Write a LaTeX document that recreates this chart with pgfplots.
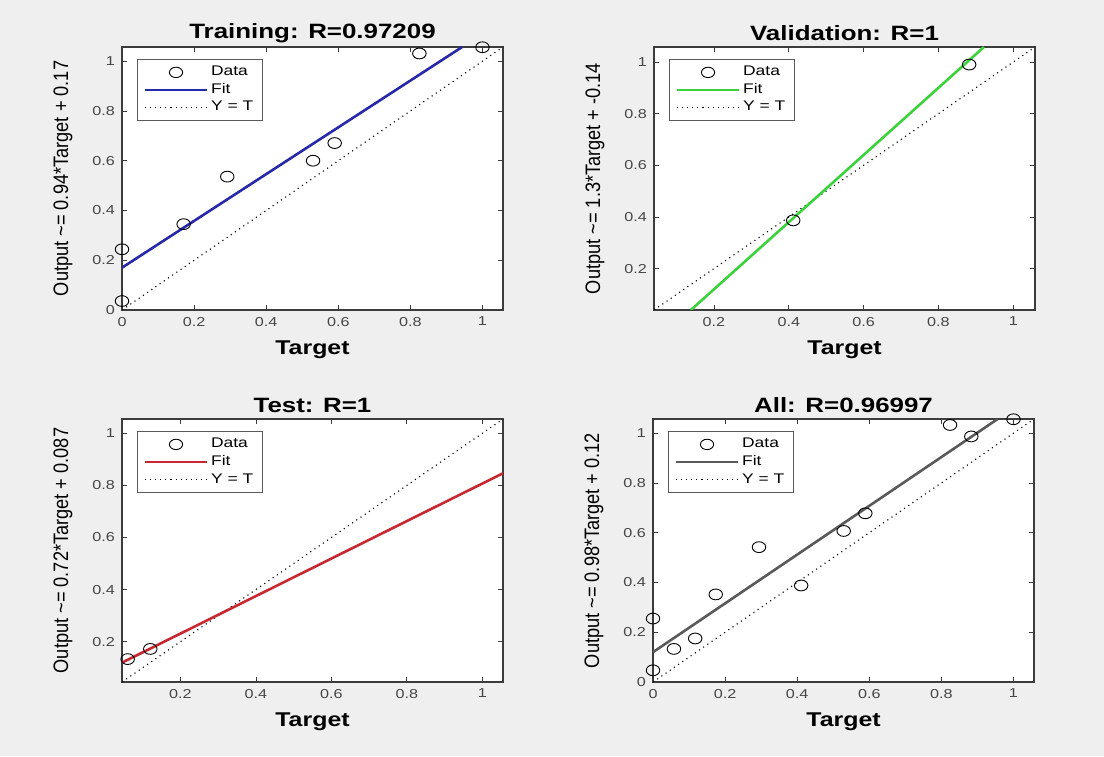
\documentclass[border=0pt]{standalone}
\usepackage{fontspec}
\setmainfont[FakeStretch=1.25]{Liberation Sans}
\newfontfamily\nfont[FakeStretch=0.87]{Liberation Sans}
\usepackage{pgfplots}
\pgfplotsset{compat=1.18}

\definecolor{bgc}{RGB}{239,239,239}
\definecolor{axc}{RGB}{60,60,60}
\definecolor{tkc}{RGB}{70,70,70}
\definecolor{lgc}{RGB}{90,90,90}
\definecolor{fitblue}{RGB}{40,40,170}
\definecolor{fitgreen}{RGB}{60,210,60}
\definecolor{fitred}{RGB}{200,40,50}
\definecolor{fitgray}{RGB}{90,90,90}

\pgfplotsset{
  regr/.style={
    scale only axis, width=190.5bp, height=131.5bp,
    anchor=south west,
    clip mode=individual,
    axis background/.style={fill=white},
    axis line style={draw=axc, line width=0.6bp},
    tick style={draw=axc, line width=0.4bp},
    tick align=inside, tick pos=both, major tick length=2.5bp,
    ticklabel style={font=\fontsize{6.5}{7}\selectfont, text=tkc},
    /pgf/number format/assume math mode=true,
    xtick={0,0.2,0.4,0.6,0.8,1}, ytick={0,0.2,0.4,0.6,0.8,1},
    every axis title shift=0pt,
    title style={at={(axis description cs:0.5,1.053)}, anchor=center,
      font=\fontsize{10.4}{11}\selectfont\bfseries},
    xlabel={Target},
    xlabel style={at={(axis description cs:0.5,-0.153)}, anchor=center,
      font=\fontsize{10}{11}\selectfont\bfseries},
    ylabel style={at={(axis description cs:-0.155,0.5)}, anchor=center,
      font=\nfont\fontsize{10.5}{11}\selectfont},
    legend style={at={(axis description cs:0.04,0.955)}, anchor=north west,
      draw=lgc, line width=0.5bp, fill=white,
      font=\fontsize{7}{8}\selectfont, row sep=-0.4bp,
      nodes={inner sep=1.4bp}},
    legend cell align=left,
  },
  datapts/.style={only marks, mark=o, mark size=2.7bp,
    mark options={black, line width=0.45bp, xscale=1.25}},
  ytline/.style={black, dotted, line width=0.55bp},
}

\newcommand{\legimgs}[1]{%
  \addlegendimage{legend image code/.code={\draw[black, line width=0.45bp] (15.5bp,0bp) ellipse [x radius=3.3bp, y radius=2.6bp];}}
  \addlegendimage{legend image code/.code={\draw[#1, line width=1.3bp] (0bp,0bp) -- (31bp,0bp);}}
  \addlegendimage{legend image code/.code={\draw[black, dotted, line width=0.55bp] (0bp,0bp) -- (31bp,0bp);}}
}

\begin{document}
\begin{tikzpicture}[x=1bp, y=1bp]
\fill[bgc] (0,0) rectangle (552,378);

% Training
\begin{axis}[regr, at={(61bp,223bp)},
  title={Training: R=0.97209},
  ylabel={Output \textasciitilde= 0.94*Target + 0.17},
  xmin=0, xmax=1.057, ymin=0, ymax=1.057]
\legimgs{fitblue}
\addplot[ytline, forget plot] coordinates {(0,0) (1.057,1.057)};
\addplot[fitblue, line width=1.3bp, forget plot] coordinates {(0,0.17) (0.9436,1.057)};
\addplot[datapts, forget plot] table {
x y
0 0.036
0 0.244
0.171 0.345
0.292 0.536
0.530 0.600
0.590 0.671
0.825 1.031
1.000 1.056
};
\legend{Data, Fit, Y = T}
\end{axis}

% Validation
\begin{axis}[regr, at={(327bp,223bp)},
  title={Validation: R=1},
  ylabel={Output \textasciitilde= 1.3*Target + -0.14},
  xmin=0.04, xmax=1.058, ymin=0.04, ymax=1.058]
\legimgs{fitgreen}
\addplot[ytline, forget plot] coordinates {(0.04,0.04) (1.058,1.058)};
\addplot[fitgreen, line width=1.3bp, forget plot] coordinates {(0.1385,0.04) (0.9215,1.058)};
\addplot[datapts, forget plot] table {
x y
0.412 0.387
0.882 0.990
};
\legend{Data, Fit, Y = T}
\end{axis}

% Test
\begin{axis}[regr, at={(61bp,37bp)},
  title={Test: R=1},
  ylabel={Output \textasciitilde= 0.72*Target + 0.087},
  xmin=0.045, xmax=1.055, ymin=0.045, ymax=1.055]
\legimgs{fitred}
\addplot[ytline, forget plot] coordinates {(0.045,0.045) (1.055,1.055)};
\addplot[fitred, line width=1.3bp, forget plot] coordinates {(0.045,0.1194) (1.055,0.8466)};
\addplot[datapts, forget plot] table {
x y
0.060 0.133
0.120 0.172
};
\legend{Data, Fit, Y = T}
\end{axis}

% All
\begin{axis}[regr, at={(326.5bp,37bp)},
  title={All: R=0.96997},
  ylabel={Output \textasciitilde= 0.98*Target + 0.12},
  xmin=0, xmax=1.057, ymin=0, ymax=1.057]
\legimgs{fitgray}
\addplot[ytline, forget plot] coordinates {(0,0) (1.057,1.057)};
\addplot[fitgray, line width=1.3bp, forget plot] coordinates {(0,0.12) (0.9561,1.057)};
\addplot[datapts, forget plot] table {
x y
0 0.047
0 0.255
0.058 0.133
0.117 0.175
0.174 0.352
0.294 0.542
0.411 0.388
0.529 0.607
0.589 0.678
0.824 1.033
0.883 0.987
1.000 1.056
};
\legend{Data, Fit, Y = T}
\end{axis}

\pgfresetboundingbox
\useasboundingbox (0,0) rectangle (552,378);
\end{tikzpicture}
\end{document}
